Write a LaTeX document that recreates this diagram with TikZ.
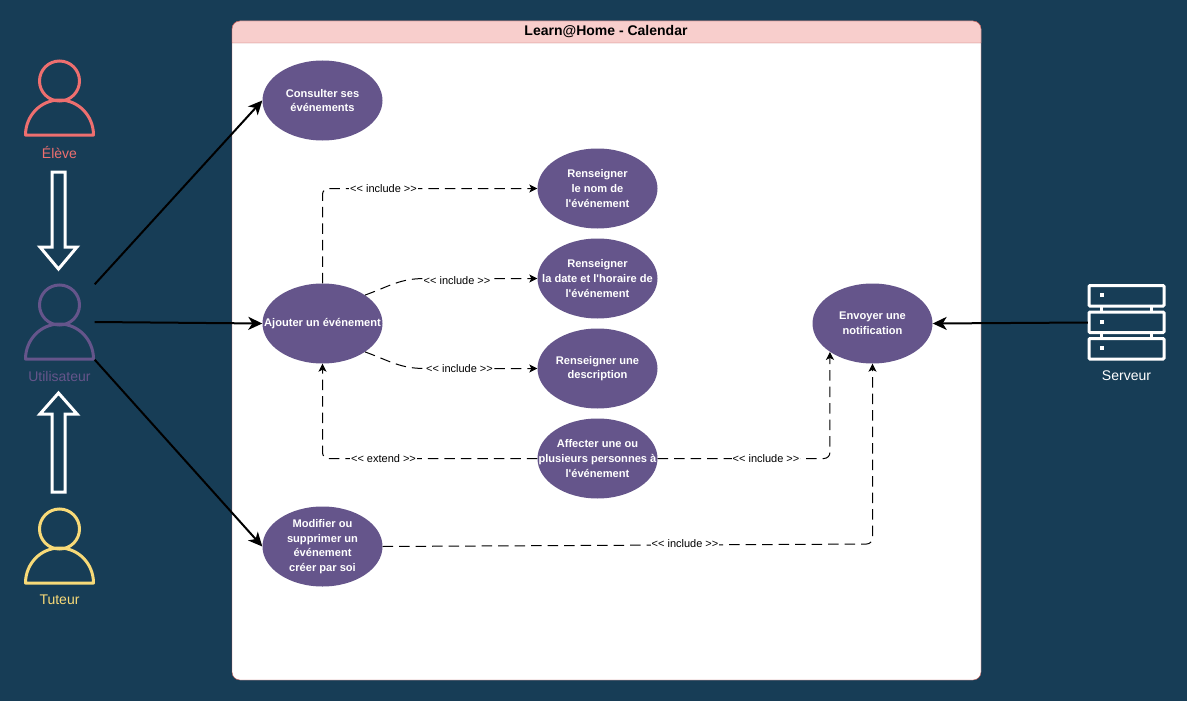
\documentclass[tikz,border=0pt]{standalone}
\usepackage{fontspec}
\setmainfont[Ligatures=TeXOff]{Liberation Sans}
\usetikzlibrary{arrows.meta,shapes.geometric}
\definecolor{bgblue}{HTML}{173D56}
\definecolor{usecase}{HTML}{65558B}
\definecolor{eleve}{HTML}{EE6F6F}
\definecolor{tuteur}{HTML}{F8DA78}
\definecolor{headfill}{HTML}{F8CECC}
\definecolor{headline}{HTML}{B85450}
\tikzset{
    usecasenode/.style={ellipse,fill=usecase,minimum width=120,minimum height=80,inner sep=-25,align=center,text=white,font=\fontsize{11.1}{14.7}\selectfont\bfseries},
    actornode/.style={minimum width=70,minimum height=75,inner sep=0},
    assoc/.style={line width=2,-{Stealth[length=14,width=13,inset=4]}},
    dep/.style={line width=1,dash pattern=on 10.5 off 6,-{Stealth[length=8,width=8,inset=2]}},
    deplabel/.style={fill=white,inner sep=1,font=\fontsize{11}{13}\selectfont},
    actorlabel/.style={font=\fontsize{14}{16}\selectfont},
    blockarrow/.style={draw=white,line width=3,miter limit=10}
}
\begin{document}
\begin{tikzpicture}[x=1pt,y=-1pt]
    \useasboundingbox (0,0) rectangle (1187,701);
    \fill[bgblue] (0,0) rectangle (1187,701);

    % panel
    \draw[headline,fill=white,rounded corners=8] (232,21) rectangle (981,680);
    \draw[headline,fill=headfill] (232,43) -- (232,29) arc[start angle=180,end angle=270,radius=8] -- (973,21) arc[start angle=270,end angle=360,radius=8] -- (981,43) -- cycle;
    \node[font=\fontsize{14}{16}\selectfont\bfseries] (title) at (606,32) {Learn@Home - Calendar};

    % actors
    \foreach \nm/\yy/\col/\txt in {eleve/98/eleve/Élève,user/322/usecase/Utilisateur,tut/546/tuteur/Tuteur}{
        \node[actornode] (\nm) at (59.5,\yy) {};
        \draw[\col,line width=3] (59.5,\yy-17) circle (20);
        \draw[\col,line width=3,line join=round] (25.5,\yy+37) arc[start angle=180,end angle=360,x radius=34,y radius=35] -- cycle;
        \node[actorlabel,text=\col] (\nm lbl) at (59.5,\yy+54) {\txt};
    }

    % block arrows
    \draw[blockarrow] (52,172) -- (65,172) -- (65,247) -- (77,247) -- (58.5,269) -- (40,247) -- (52,247) -- cycle;
    \draw[blockarrow] (52,492) -- (65,492) -- (65,414) -- (77,414) -- (58.5,393) -- (40,414) -- (52,414) -- cycle;

    % server
    \node[actornode,minimum width=77] (srv) at (1126.5,322.5) {};
    \foreach \yy in {285.5,312,338.5}{
        \draw[white,line width=3,rounded corners=1] (1089,\yy) rectangle (1164,\yy+20.5);
        \fill[white] (1100,\yy+7.5) rectangle (1104,\yy+11.5);
    }
    \foreach \yy in {306,332.5}{
        \draw[white,line width=3] (1101.5,\yy) -- (1101.5,\yy+6);
        \draw[white,line width=3] (1151.5,\yy) -- (1151.5,\yy+6);
    }
    \node[actorlabel,text=white] (srvlbl) at (1126.5,376) {Serveur};

    % use cases
    \node[usecasenode] (cons) at (322.5,100.5) {Consulter ses\\événements};
    \node[usecasenode] (ajout) at (322.5,323.5) {Ajouter un événement};
    \node[usecasenode] (modif) at (322.5,546.5) {Modifier ou\\supprimer un\\événement\\créer par soi};
    \node[usecasenode] (nom) at (597.5,188.5) {Renseigner\\le nom de\\l'événement};
    \node[usecasenode] (date) at (597.5,278.5) {Renseigner\\la date et l'horaire de\\l'événement};
    \node[usecasenode] (descr) at (597.5,368.5) {Renseigner une\\description};
    \node[usecasenode] (affect) at (597.5,458.5) {Affecter une ou\\plusieurs personnes à\\l'événement};
    \node[usecasenode] (notif) at (872.5,323.5) {Envoyer une\\notification};

    % actor links
    \draw[assoc] (user.north east) -- (cons.west);
    \draw[assoc] (user.east) -- (ajout.west);
    \draw[assoc] (user.south east) -- (modif.west);
    \draw[assoc] (srv.west) -- (notif.east);

    % include / extend
    \draw[dep,rounded corners=6] (ajout.north) |- (nom.west);
    \draw[dep] (ajout.north east) .. controls (390,286) and (400,278.5) .. (425,278.5) -- (date.west);
    \draw[dep] (ajout.south east) .. controls (390,361) and (400,368.5) .. (425,368.5) -- (descr.west);
    \draw[dep,rounded corners=6] (affect.west) -| (ajout.south);
    \draw[dep,rounded corners=6] (affect.east) -| (notif.south west);
    \coordinate (modcorner) at (872.5,544);
    \draw[dep,rounded corners=6] (modif.east) -- (modcorner) -- (notif.south);

    \node[deplabel] (lnom) at (383.5,189) {<< include >>};
    \node[deplabel] (ldate) at (457,281) {<< include >>};
    \node[deplabel] (ldescr) at (459.5,369) {<< include >>};
    \node[deplabel] (lext) at (383.5,459) {<< extend >>};
    \node[deplabel] (laff) at (766,459) {<< include >>};
    \node[deplabel] (lmod) at (685,544) {<< include >>};
\end{tikzpicture}
\end{document}
